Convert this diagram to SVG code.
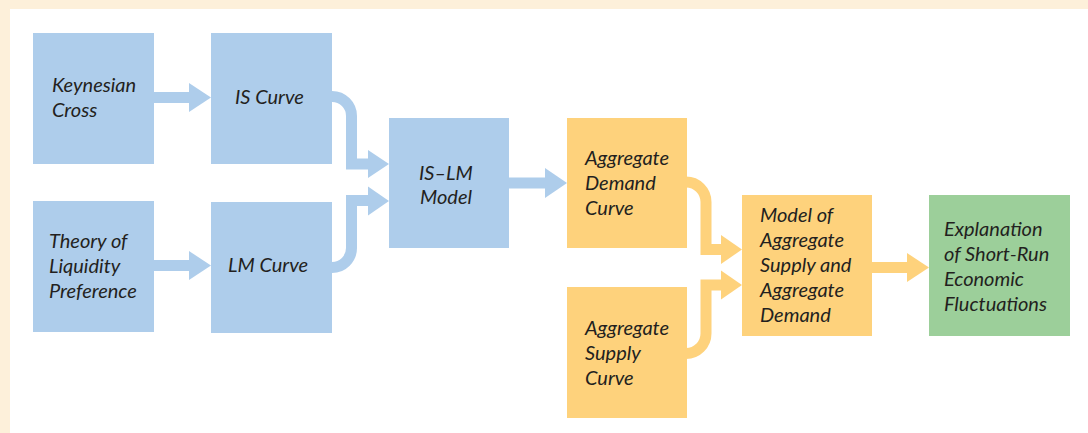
<svg xmlns="http://www.w3.org/2000/svg" width="1088" height="433" viewBox="0 0 1088 433">
<style>
.blue{fill:#aecdeb}
.orange{fill:#fed27c}
.green{fill:#9ccf9a}
.bl{fill:none;stroke:#aecdeb;stroke-width:11}
.or{fill:none;stroke:#fed27c;stroke-width:11}
text{font-family:Lato,"Open Sans","Liberation Sans",sans-serif;font-style:italic;font-size:20px;fill:#231f20}
</style>
<rect x="0" y="0" width="1088" height="433" fill="#ffffff"/>
<rect x="0" y="0" width="1088" height="9" fill="#fdf0da"/>
<rect x="0" y="0" width="10" height="433" fill="#fdf0da"/>
<g id="connectors">
<rect class="blue" x="154" y="92" width="36" height="11"/>
<polygon class="blue" points="189,83 211,97.5 189,112"/>
<rect class="blue" x="154" y="260" width="36" height="11"/>
<polygon class="blue" points="189,251 211,265.5 189,280"/>
<path class="bl" d="M332,96.5 A19.5,19.5 0 0 1 351.5,116 V164 H369"/>
<polygon class="blue" points="368,150 389,164 368,178"/>
<path class="bl" d="M332,267.5 A19.5,19.5 0 0 0 351.5,248 V200.5 H369"/>
<polygon class="blue" points="368,186.5 389,201 368,215.5"/>
<rect class="blue" x="509" y="177.5" width="37" height="11"/>
<polygon class="blue" points="545,168 567,183 545,198"/>
<path class="or" d="M686,182 A20,20 0 0 1 706,202 V249.5 H722"/>
<polygon class="orange" points="721,235 742,249.5 721,264"/>
<path class="or" d="M686,353.5 A20,20 0 0 0 706,333.5 V285 H722"/>
<polygon class="orange" points="721,270.5 742,285 721,299.5"/>
<rect class="orange" x="872" y="262" width="36" height="11"/>
<polygon class="orange" points="907,253 929,267.5 907,282"/>
</g>
<g id="keynesian-cross"><rect class="blue" x="33" y="33" width="121" height="131"/><text x="52" y="92">Keynesian</text><text x="52" y="117">Cross</text></g>
<g id="is-curve"><rect class="blue" x="211" y="33" width="121" height="131"/><text x="235" y="104">IS Curve</text></g>
<g id="theory-liquidity"><rect class="blue" x="33" y="201" width="121" height="131"/><text x="49" y="248">Theory of</text><text x="49" y="273">Liquidity</text><text x="49" y="298">Preference</text></g>
<g id="lm-curve"><rect class="blue" x="211" y="202" width="121" height="131"/><text x="228" y="272">LM Curve</text></g>
<g id="is-lm"><rect class="blue" x="389" y="118" width="120" height="130"/><text x="419" y="180">IS–LM</text><text x="420" y="204">Model</text></g>
<g id="aggregate-demand"><rect class="orange" x="567" y="118" width="120" height="130"/><text x="585" y="165">Aggregate</text><text x="585" y="190">Demand</text><text x="585" y="215">Curve</text></g>
<g id="aggregate-supply"><rect class="orange" x="567" y="287" width="120" height="131"/><text x="585" y="335">Aggregate</text><text x="585" y="360">Supply</text><text x="585" y="385">Curve</text></g>
<g id="model-as-ad"><rect class="orange" x="742" y="195" width="130" height="141"/><text x="760" y="222">Model of</text><text x="760" y="247">Aggregate</text><text x="760" y="272">Supply and</text><text x="760" y="297">Aggregate</text><text x="760" y="322">Demand</text></g>
<g id="explanation"><rect class="green" x="929" y="195" width="141" height="141"/><text x="944" y="236">Explanation</text><text x="944" y="261">of Short-Run</text><text x="944" y="286">Economic</text><text x="944" y="311">Fluctuations</text></g>
</svg>
